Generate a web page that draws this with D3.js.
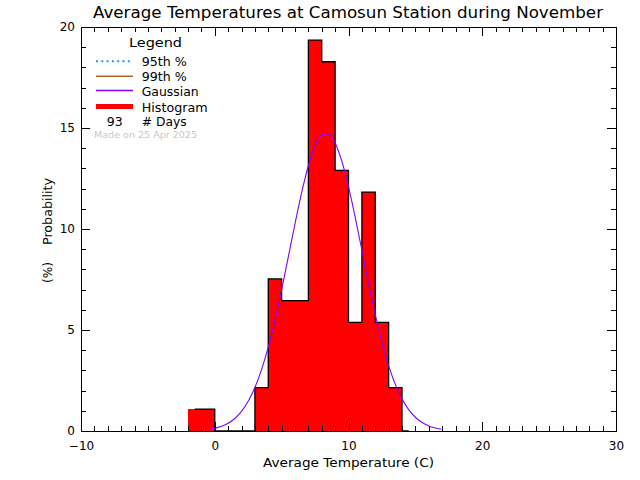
<!DOCTYPE html>
<html><head><meta charset="utf-8">
<script src="https://cdn.jsdelivr.net/npm/d3@7"></script>
<style>
body{margin:0;background:#fff}
svg{display:block}
text{font-family:"DejaVu Sans",sans-serif;fill:#000}
</style>
</head><body><svg id="c" width="640" height="480"></svg>
<script>
// ---- data ----
const titleText = "Average Temperatures at Camosun Station during November";
const xTitle = "Average Temperature (C)";
const yTitleMain = "Probability";
const yTitleUnit = "(%)";
const binLeft = [-2,-1,0,1,2,3,4,5,6,7,8,9,10,11,12,13,14];
const binPct  = [1.08,1.08,0,0,0,2.15,7.53,6.45,6.45,19.35,18.28,12.90,5.38,11.83,5.38,2.15,0];
const gaussX = [-0.34,0,0.5,1,1.5,2,2.5,3,3.5,4,4.5,5,5.5,6,6.5,7,7.5,8,8.5,9,9.5,10,10.5,11,11.5,12,12.5,13,13.5,14,14.5,15,15.5,16,16.5,16.94];
const gaussY = [0.09,0.13,0.23,0.38,0.62,0.97,1.47,2.15,3.04,4.15,5.48,6.99,8.62,10.26,11.81,13.13,14.12,14.66,14.71,14.26,13.36,12.10,10.58,8.95,7.31,5.77,4.40,3.24,2.31,1.59,1.06,0.68,0.42,0.25,0.15,0.09];
const xTicks = [-10,0,10,20,30];
const yTicks = [0,5,10,15,20];
const xMinor = d3.range(-10,31,1);
const yMinor = d3.range(0,21,1);
const legendTitle = "Legend";
const legendLabels = ["95th %","99th %","Gaussian","Histogram"];
const legendColors = ["#1e90ff","#b06428","#8000ff","#ff0000"];
const nDays = "93";
const daysLabel = "# Days";
const madeOn = "Made on 25 Apr 2025";

// ---- layout ----
const L=81, R=616, T=27, B=431;
const svg = d3.select("#c");
const x = d3.scaleLinear().domain([-10,30]).range([L,R]);
const y = d3.scaleLinear().domain([0,20]).range([B,T]);

// histogram fill
svg.append("g").selectAll("rect")
  .data(binLeft.map((b,i)=>({b,v:binPct[i]})).filter(d=>d.v>0))
  .join("rect")
  .attr("x",d=>x(d.b)).attr("width",d=>x(d.b+1)-x(d.b))
  .attr("y",d=>y(d.v)).attr("height",d=>y(0)-y(d.v))
  .attr("fill","#ff0000").attr("shape-rendering","crispEdges");

// histogram outline (step through bin centres)
const stepLine = d3.line().x(d=>x(d.b+0.5)).y(d=>y(d.v)).curve(d3.curveStep);
svg.append("path")
  .datum(binLeft.map((b,i)=>({b,v:binPct[i]})))
  .attr("d",stepLine).attr("fill","none").attr("stroke","#000").attr("stroke-width",1.3);

// gaussian
const gLine = d3.line().x((d,i)=>x(gaussX[i])).y(d=>y(d)).curve(d3.curveMonotoneX);
svg.append("path").datum(gaussY).attr("d",gLine)
  .attr("fill","none").attr("stroke","#8000ff").attr("stroke-width",1.1);

// axes
function styleAxis(g){
  g.selectAll("path,line").attr("stroke","#000").attr("stroke-width",1).attr("shape-rendering","crispEdges");
  g.selectAll("text").attr("font-size",12).attr("fill","#000").attr("font-family","DejaVu Sans");
}
const fmt = d3.format("d");
svg.append("g").attr("transform",`translate(0,${B})`)
  .call(d3.axisBottom(x).tickValues(xMinor).tickSizeInner(-5).tickSizeOuter(0).tickFormat("")).call(styleAxis);
svg.append("g").attr("transform",`translate(0,${B})`)
  .call(d3.axisBottom(x).tickValues(xTicks).tickSizeInner(-9).tickSizeOuter(0).tickPadding(10).tickFormat(fmt)).call(styleAxis);
svg.append("g").attr("transform",`translate(0,${T})`)
  .call(d3.axisTop(x).tickValues(xMinor).tickSizeInner(-5).tickSizeOuter(0).tickFormat("")).call(styleAxis);
svg.append("g").attr("transform",`translate(0,${T})`)
  .call(d3.axisTop(x).tickValues(xTicks).tickSizeInner(-9).tickSizeOuter(0).tickFormat("")).call(styleAxis);
svg.append("g").attr("transform",`translate(${L},0)`)
  .call(d3.axisLeft(y).tickValues(yMinor).tickSizeInner(-5).tickSizeOuter(0).tickFormat("")).call(styleAxis);
svg.append("g").attr("transform",`translate(${L},0)`)
  .call(d3.axisLeft(y).tickValues(yTicks).tickSizeInner(-9).tickSizeOuter(0).tickPadding(6).tickFormat(fmt)).call(styleAxis);
svg.append("g").attr("transform",`translate(${R},0)`)
  .call(d3.axisRight(y).tickValues(yMinor).tickSizeInner(-5).tickSizeOuter(0).tickFormat("")).call(styleAxis);
svg.append("g").attr("transform",`translate(${R},0)`)
  .call(d3.axisRight(y).tickValues(yTicks).tickSizeInner(-9).tickSizeOuter(0).tickFormat("")).call(styleAxis);

// titles
svg.append("text").attr("x",93).attr("y",18).attr("font-size",16)
  .attr("textLength",510).attr("lengthAdjust","spacingAndGlyphs").text(titleText);
svg.append("text").attr("x",263).attr("y",467).attr("font-size",13)
  .attr("textLength",171).attr("lengthAdjust","spacingAndGlyphs").text(xTitle);
svg.append("text").attr("transform","translate(52,245) rotate(-90)").attr("font-size",13)
  .attr("textLength",67).attr("lengthAdjust","spacingAndGlyphs").text(yTitleMain);
svg.append("text").attr("transform","translate(52,283) rotate(-90)").attr("font-size",13)
  .attr("textLength",21).attr("lengthAdjust","spacingAndGlyphs").text(yTitleUnit);

// legend
svg.append("text").attr("x",129).attr("y",46.5).attr("font-size",13)
  .attr("textLength",53).attr("lengthAdjust","spacingAndGlyphs").text(legendTitle);
const legY = [61.3,76.3,90.5,106.5];
const legW = [45,45,57,66];
legendLabels.forEach((lab,i)=>{
  const ln = svg.append("line").attr("x1",96).attr("x2",133).attr("y1",legY[i]).attr("y2",legY[i])
    .attr("stroke",legendColors[i]);
  if(i===0) ln.attr("stroke-width",2).attr("stroke-dasharray","2 3.3");
  else if(i===3) ln.attr("stroke-width",5);
  else ln.attr("stroke-width",1.6);
  svg.append("text").attr("x",141.7).attr("y",legY[i]+5).attr("font-size",12.5)
    .attr("textLength",legW[i]).attr("lengthAdjust","spacingAndGlyphs").text(lab);
});
svg.append("text").attr("x",114.7).attr("y",125.5).attr("text-anchor","middle").attr("font-size",12.5).text(nDays);
svg.append("text").attr("x",141.7).attr("y",125.5).attr("font-size",12.5)
  .attr("textLength",45).attr("lengthAdjust","spacingAndGlyphs").text(daysLabel);
svg.append("text").attr("x",94).attr("y",138).attr("font-size",8.5).style("fill","#c8c8c8")
  .attr("textLength",103).attr("lengthAdjust","spacingAndGlyphs").text(madeOn);
</script></body></html>
